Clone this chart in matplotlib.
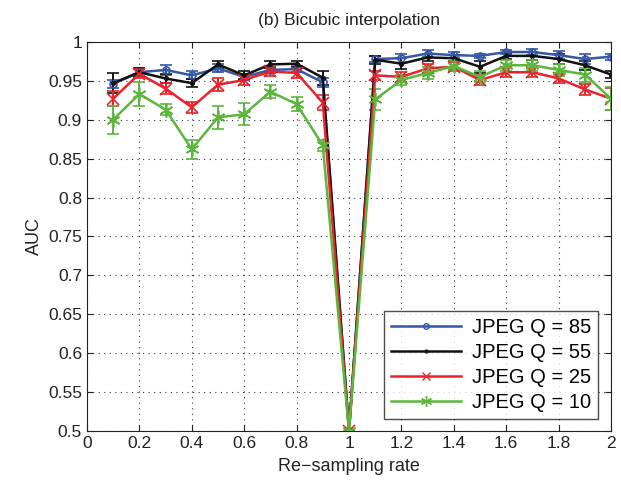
import numpy as np
import matplotlib
matplotlib.use("Agg")
import matplotlib.pyplot as plt
from matplotlib.lines import Line2D

plt.rcParams['font.family'] = ['Liberation Sans', 'DejaVu Sans']

# re-sampling rates
rates = [0.1, 0.2, 0.3, 0.4, 0.5, 0.6, 0.7, 0.8, 0.9, 1.0,
         1.1, 1.2, 1.3, 1.4, 1.5, 1.6, 1.7, 1.8, 1.9, 2.0]

# AUC
auc_q85 = [0.946, 0.961, 0.964, 0.957, 0.966, 0.955, 0.964, 0.965, 0.948, 0.5,
           0.978, 0.979, 0.985, 0.983, 0.982, 0.987, 0.987, 0.983, 0.978, 0.981]
auc_q55 = [0.947, 0.961, 0.953, 0.947, 0.971, 0.957, 0.971, 0.972, 0.954, 0.5,
           0.977, 0.972, 0.980, 0.979, 0.968, 0.982, 0.982, 0.978, 0.970, 0.958]
auc_q25 = [0.927, 0.959, 0.940, 0.916, 0.945, 0.951, 0.962, 0.960, 0.922, 0.5,
           0.957, 0.955, 0.966, 0.968, 0.951, 0.961, 0.961, 0.953, 0.939, 0.927]
auc_q10 = [0.900, 0.933, 0.913, 0.862, 0.903, 0.907, 0.936, 0.920, 0.867, 0.5,
           0.926, 0.951, 0.960, 0.969, 0.955, 0.970, 0.970, 0.964, 0.958, 0.927]

# error bar half-widths
err_q85 = [0.005, 0.005, 0.006, 0.005, 0.005, 0.004, 0.004, 0.004, 0.006, 0.0,
           0.004, 0.006, 0.004, 0.004, 0.003, 0.003, 0.004, 0.005, 0.006, 0.004]
err_q55 = [0.013, 0.005, 0.006, 0.005, 0.005, 0.005, 0.004, 0.004, 0.009, 0.0,
           0.005, 0.007, 0.005, 0.004, 0.008, 0.004, 0.005, 0.006, 0.006, 0.005]
err_q25 = [0.010, 0.006, 0.007, 0.007, 0.008, 0.007, 0.006, 0.006, 0.010, 0.0,
           0.006, 0.006, 0.006, 0.006, 0.007, 0.006, 0.006, 0.006, 0.007, 0.014]
err_q10 = [0.018, 0.016, 0.007, 0.012, 0.015, 0.014, 0.008, 0.009, 0.007, 0.0,
           0.014, 0.007, 0.008, 0.006, 0.007, 0.007, 0.007, 0.008, 0.009, 0.015]

labels = ['JPEG Q = 85', 'JPEG Q = 55', 'JPEG Q = 25', 'JPEG Q = 10']
colors = ['#3457a6', '#111111', '#e8232b', '#5cb63e']
markers = ['o', '.', 'x', (6, 2, 0)]
msizes = [5, 5, 8, 10]

fig = plt.figure(figsize=(6.21, 4.87), dpi=100)
ax = fig.add_axes([0.140, 0.115, 0.844, 0.799])

series = [(auc_q85, err_q85), (auc_q55, err_q55), (auc_q25, err_q25), (auc_q10, err_q10)]
handles = []
for (y, e), lab, c, m, ms in zip(series, labels, colors, markers, msizes):
    ax.errorbar(rates, y, yerr=e, color=c, marker=m, markersize=ms,
                markerfacecolor='none' if m == 'o' else c,
                markeredgewidth=1.2, linewidth=1.8, elinewidth=1.4,
                capsize=4, capthick=1.4)
    handles.append(Line2D([], [], color=c, marker=m, markersize=ms * 0.8,
                          markerfacecolor='none' if m == 'o' else c,
                          markeredgewidth=1.0, linewidth=1.8, label=lab))

ax.set_xlim(0, 2)
ax.set_ylim(0.5, 1)
ax.set_xticks(np.arange(0, 2.01, 0.2))
ax.set_xticklabels(['0', '0.2', '0.4', '0.6', '0.8', '1', '1.2', '1.4', '1.6', '1.8', '2'])
yt = np.arange(0.5, 1.001, 0.05)
ax.set_yticks(yt)
ax.set_yticklabels(['0.5', '0.55', '0.6', '0.65', '0.7', '0.75', '0.8', '0.85', '0.9', '0.95', '1'])
ax.tick_params(direction='in', labelsize=12.5, top=True, right=True, length=4, colors='#222222')
ax.grid(True, linestyle=(0, (1, 4)), color='#333333', linewidth=0.8)
for s in ax.spines.values():
    s.set_color('#222222')

ax.set_xlabel('Re\u2212sampling rate', fontsize=13, color='#222222', labelpad=5)
ax.set_ylabel('AUC', fontsize=13, color='#222222')
ax.set_title('(b) Bicubic interpolation', fontsize=12.5, color='#222222', pad=12)

leg = ax.legend(handles=handles, loc='lower right', fontsize=14.5, frameon=True,
                fancybox=False, edgecolor='#222222', handlelength=3.5,
                borderpad=0.35, labelspacing=0.3, handletextpad=0.5,
                bbox_to_anchor=(0.994, 0.004))
leg.get_frame().set_linewidth(1.0)

fig.savefig('out.png', dpi=100)
